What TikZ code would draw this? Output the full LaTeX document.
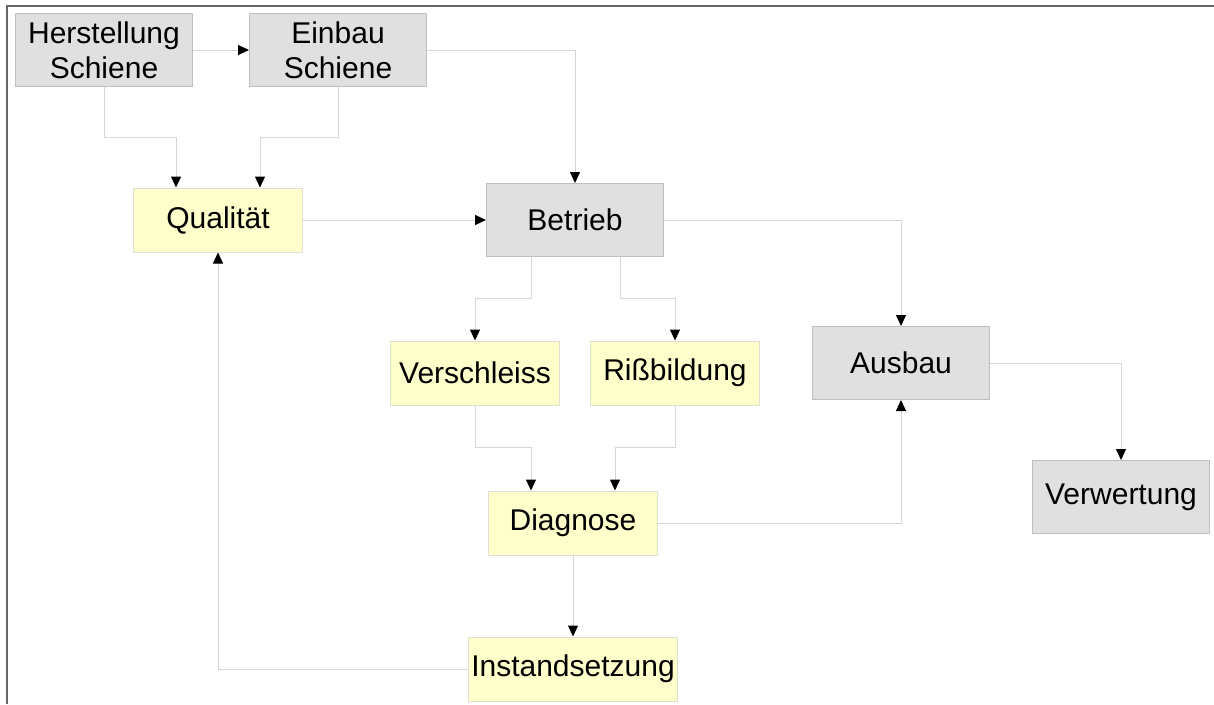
\documentclass[tikz,border=0pt]{standalone}
\usepackage{fontspec}
\setmainfont{Liberation Sans}
\usetikzlibrary{arrows.meta,positioning}

\definecolor{boxgrey}{RGB}{224,224,224}
\definecolor{boxyellow}{RGB}{255,255,204}
\definecolor{linegrey}{RGB}{214,214,214}

\begin{document}
\begin{tikzpicture}[node distance=234pt,
                    >={Triangle[length=11pt,width=10pt,color=black]},
                    line width=1pt]
    \tikzstyle{greybox}=[rectangle,
                    minimum width=177pt,
                    minimum height=73pt,
                    inner sep=2pt,
                    align=center,
                    draw=black!25,
                    fill=boxgrey,
                    font=\fontsize{30}{35}\selectfont]
    \tikzstyle{yellowbox}=[greybox,
                    minimum width=169pt,
                    minimum height=64pt,
                    draw=boxyellow!70!black!40,
                    fill=boxyellow]
    \tikzstyle{link}=[->,draw=linegrey]

    \useasboundingbox (0,0) rectangle (1214pt,-704pt);
    \draw[black!60,line width=1.5pt] (7pt,-704pt) |- (1214pt,-6pt);

    \node[greybox] (herst) at (104pt,-50pt) {Herstellung\\Schiene};
    \node[greybox] (einbau) [right of=herst] {Einbau\\Schiene};
    \node[yellowbox] (qual) at (218pt,-220pt) {Qualität};
    \node[greybox] (betrieb) [node distance=357pt, right of=qual] {Betrieb};
    \node[yellowbox] (verschl) [node distance=153pt, below of=betrieb, xshift=-100pt] {Verschleiss};
    \node[yellowbox] (riss) [node distance=200pt, right of=verschl] {Rißbildung};
    \node[yellowbox] (diag) [node distance=303pt, below of=betrieb, xshift=-2pt] {Diagnose};
    \node[yellowbox, minimum width=209pt] (instand) [node distance=146pt, below of=diag] {Instandsetzung};
    \node[greybox] (ausbau) [node distance=326pt, right of=betrieb, yshift=-143pt] {Ausbau};
    \node[greybox] (verwert) [node distance=220pt, right of=ausbau, yshift=-134pt] {Verwertung};

    \draw[link] (herst) -- (einbau);
    \draw[link] (herst.south) -- ++(0,-50pt) -| ([xshift=-42pt]qual.north);
    \draw[link] (einbau.south) -- ++(0,-50pt) -| ([xshift=42pt]qual.north);
    \draw[link] (einbau.east) -| (betrieb.north);
    \draw[link] (qual) -- (betrieb);
    \draw[link] ([xshift=-44pt]betrieb.south) -- ++(0,-41pt) -| (verschl.north);
    \draw[link] ([xshift=45pt]betrieb.south) -- ++(0,-41pt) -| (riss.north);
    \draw[link] (betrieb.east) -| (ausbau.north);
    \draw[link] (verschl.south) -- ++(0,-42pt) -| ([xshift=-42pt]diag.north);
    \draw[link] (riss.south) -- ++(0,-42pt) -| ([xshift=42pt]diag.north);
    \draw[link] (diag.east) -| (ausbau.south);
    \draw[link] (ausbau.east) -| (verwert.north);
    \draw[link] (diag) -- (instand);
    \draw[link] (instand.west) -| (qual.south);
\end{tikzpicture}
\end{document}
